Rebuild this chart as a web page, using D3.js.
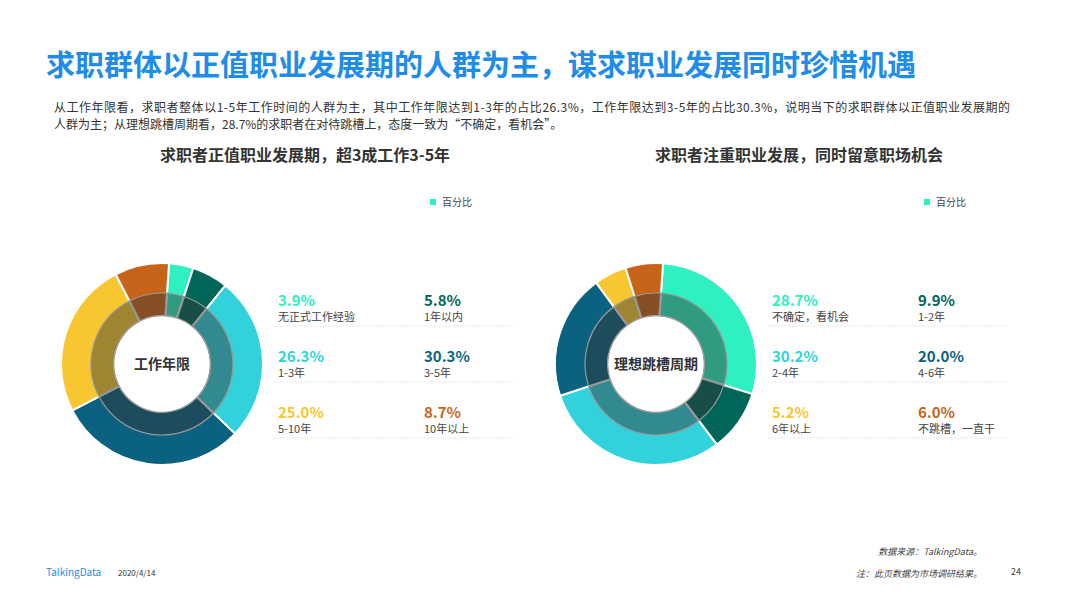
<!DOCTYPE html>
<html><head><meta charset="utf-8">
<script src="https://cdn.jsdelivr.net/npm/d3@7"></script>
<style>body{margin:0;background:#fff;font-family:"Noto Sans CJK SC","Noto Sans",sans-serif;}</style>
</head><body><svg width="1066" height="599"></svg>
<script>
var colors = ["#2ef0c0", "#00665a", "#32d2dc", "#0b6280", "#f8c630", "#c8641a"];
var leftLabels = ["无正式工作经验", "1年以内", "1-3年", "3-5年", "5-10年", "10年以上"];
var leftValues = [3.9, 5.8, 26.3, 30.3, 25.0, 8.7];
var rightLabels = ["不确定，看机会", "1-2年", "2-4年", "4-6年", "6年以上", "不跳槽，一直干"];
var rightValues = [28.7, 9.9, 30.2, 20.0, 5.2, 6.0];

var svg = d3.select("svg");
svg.append("text").attr("x", 46).attr("y", 76).text("求职群体以正值职业发展期的人群为主，谋求职业发展同时珍惜机遇")
   .attr("fill", "#1e8ce8").style("font-size", "29px").style("font-weight", "bold");
var sub = ["从工作年限看，求职者整体以1-5年工作时间的人群为主，其中工作年限达到1-3年的占比26.3%，工作年限达到3-5年的占比30.3%，说明当下的求职群体以正值职业发展期的",
           "人群为主；从理想跳槽周期看，28.7%的求职者在对待跳槽上，态度一致为“不确定，看机会”。"];
sub.forEach(function(s, i) {
  svg.append("text").attr("x", 54).attr("y", 112 + i * 17).text(s).attr("fill", "#333").style("font-size", "12px")
     .attr("textLength", i == 0 ? 956 : null);
});

function drawDonut(cx, title, center, values, labels) {
  svg.append("text").attr("x", cx + 143).attr("y", 161).attr("text-anchor", "middle").text(title)
     .attr("fill", "#333").style("font-size", "16px").style("font-weight", "bold");
  svg.append("rect").attr("x", cx + 268).attr("y", 199).attr("width", 6).attr("height", 6).attr("fill", colors[0]);
  svg.append("text").attr("x", cx + 280).attr("y", 206).text("百分比").attr("fill", "#444").style("font-size", "10px");

  var pie = d3.pie().sort(null).value(function(d) { return d; }).startAngle(0.07).endAngle(0.07 + 2 * Math.PI);
  var arcs = pie(values);
  var g = svg.append("g").attr("transform", "translate(" + cx + ",364)");
  g.selectAll("path.o").data(arcs).enter().append("path")
   .attr("d", d3.arc().innerRadius(48).outerRadius(101))
   .attr("fill", function(d, i) { return colors[i]; })
   .attr("stroke", "#fff").attr("stroke-width", 2);
  g.selectAll("path.i").data(arcs).enter().append("path")
   .attr("d", d3.arc().innerRadius(48).outerRadius(71))
   .attr("fill", "#333").attr("fill-opacity", 0.45)
   .attr("stroke", "#999").attr("stroke-width", 1.2);
  g.append("circle").attr("r", 47.5).attr("fill", "#fff");
  g.append("text").attr("y", 5).attr("text-anchor", "middle").text(center)
   .attr("fill", "#333").style("font-size", "14px").style("font-weight", "bold");

  values.forEach(function(v, i) {
    var x = cx + 116 + (i % 2) * 146, y = 306 + Math.floor(i / 2) * 56;
    svg.append("text").attr("x", x).attr("y", y).text(d3.format(".1f")(v) + "%")
       .attr("fill", colors[i]).style("font-size", "15px").style("font-weight", "bold");
    svg.append("text").attr("x", x).attr("y", y + 15).text(labels[i]).attr("fill", "#444").style("font-size", "11px");
    if (i % 2 == 0) {
      svg.append("line").attr("x1", x - 4).attr("x2", x + 236).attr("y1", y + 20).attr("y2", y + 20)
         .attr("stroke", "#e6e6e6").attr("stroke-dasharray", "2,1");
    }
  });
}
drawDonut(162, "求职者正值职业发展期，超3成工作3-5年", "工作年限", leftValues, leftLabels);
drawDonut(656, "求职者注重职业发展，同时留意职场机会", "理想跳槽周期", rightValues, rightLabels);

svg.append("text").attr("x", 46).attr("y", 576).text("TalkingData").attr("fill", "#1e8ce8").style("font-size", "10px");
svg.append("text").attr("x", 118).attr("y", 576).text("2020/4/14").attr("fill", "#333").style("font-size", "8px");
svg.append("text").attr("x", 982).attr("y", 555).attr("text-anchor", "end").text("数据来源：TalkingData。")
   .attr("fill", "#444").style("font-size", "9px").style("font-style", "italic");
svg.append("text").attr("x", 982).attr("y", 577).attr("text-anchor", "end").text("注：此页数据为市场调研结果。")
   .attr("fill", "#444").style("font-size", "9px").style("font-style", "italic");
svg.append("text").attr("x", 1011).attr("y", 575).text("24").attr("fill", "#444").style("font-size", "9px");
</script></body></html>
